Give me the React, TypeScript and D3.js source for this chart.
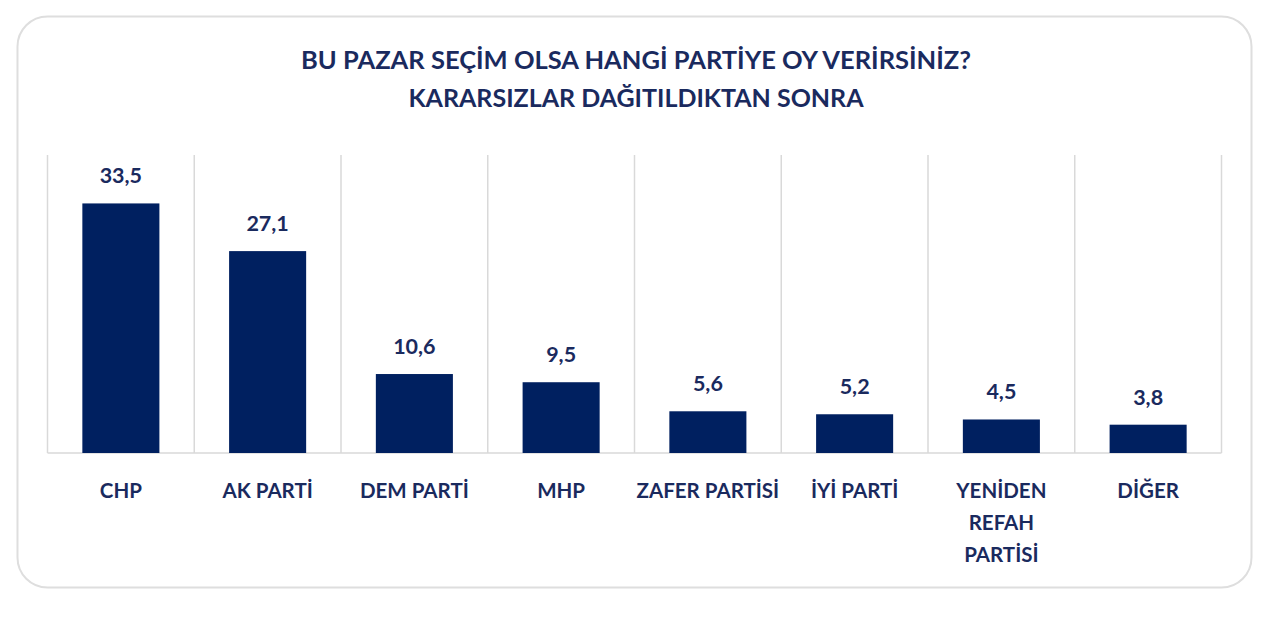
import React from "react";
import * as d3 from "d3";

const categories: string[][] = [
  ["CHP"],
  ["AK PARTİ"],
  ["DEM PARTİ"],
  ["MHP"],
  ["ZAFER PARTİSİ"],
  ["İYİ PARTİ"],
  ["YENİDEN", "REFAH", "PARTİSİ"],
  ["DİĞER"],
];
const values: number[] = [33.5, 27.1, 10.6, 9.5, 5.6, 5.2, 4.5, 3.8];
const titleLines: string[] = [
  "BU PAZAR SEÇİM OLSA HANGİ PARTİYE OY VERİRSİNİZ?",
  "KARARSIZLAR DAĞITILDIKTAN SONRA",
];

const W = 1280;
const H = 618;
const NAVY = "#002060";
const TEXT = "#1a2a5e";
const GRID = "#d9d9d9";
const FONT = "Lato, 'Open Sans', sans-serif";

export default function App() {
  const left = 47.5;
  const right = 1221.5;
  const top = 155;
  const bottom = 453;
  const idx = categories.map((_, i) => String(i));
  const x = d3.scaleBand<string>().domain(idx).range([left, right]).paddingInner(0).paddingOuter(0);
  const y = d3.scaleLinear().domain([0, 40]).range([bottom, top]);
  const bw = x.bandwidth();
  const barW = bw * 0.525;

  return (
    <svg
      width={W}
      height={H}
      style={{ position: "absolute", left: 0, top: 0, background: "#fff" }}
    >
      <rect x={17.5} y={16.5} width={1234} height={571} rx={30} ry={30} fill="#fff" stroke="#dedede" strokeWidth={2} />
      {titleLines.map((t, i) => (
        <text
          key={i}
          x={636}
          y={69 + i * 38}
          textAnchor="middle"
          fontFamily={FONT}
          fontWeight={700}
          fontSize={i === 0 ? 25.5 : 25}
          fill={TEXT}
        >
          {t}
        </text>
      ))}
      {idx.concat(["end"]).map((k, i) => {
        const xv = i < idx.length ? (x(k) as number) : right;
        return <line key={k} x1={xv} x2={xv} y1={top} y2={bottom} stroke={GRID} strokeWidth={1.5} />;
      })}
      <line x1={left} x2={right} y1={bottom} y2={bottom} stroke={GRID} strokeWidth={1.5} />
      {values.map((v, i) => {
        const cx = (x(String(i)) as number) + bw / 2;
        return (
          <g key={i}>
            <rect x={cx - barW / 2} y={y(v)} width={barW} height={bottom - y(v)} fill={NAVY} />
            <text
              x={cx}
              y={y(v) - 20}
              textAnchor="middle"
              fontFamily={FONT}
              fontWeight={700}
              fontSize={21.5}
              fill={TEXT}
            >
              {d3.format(".1f")(v).replace(".", ",")}
            </text>
          </g>
        );
      })}
      {categories.map((lines, i) => {
        const cx = (x(String(i)) as number) + bw / 2;
        return (
          <text key={i} textAnchor="middle" fontFamily={FONT} fontWeight={700} fontSize={20.5} fill={TEXT}>
            {lines.map((l, j) => (
              <tspan key={j} x={cx} y={498 + j * 32}>
                {l}
              </tspan>
            ))}
          </text>
        );
      })}
    </svg>
  );
}
